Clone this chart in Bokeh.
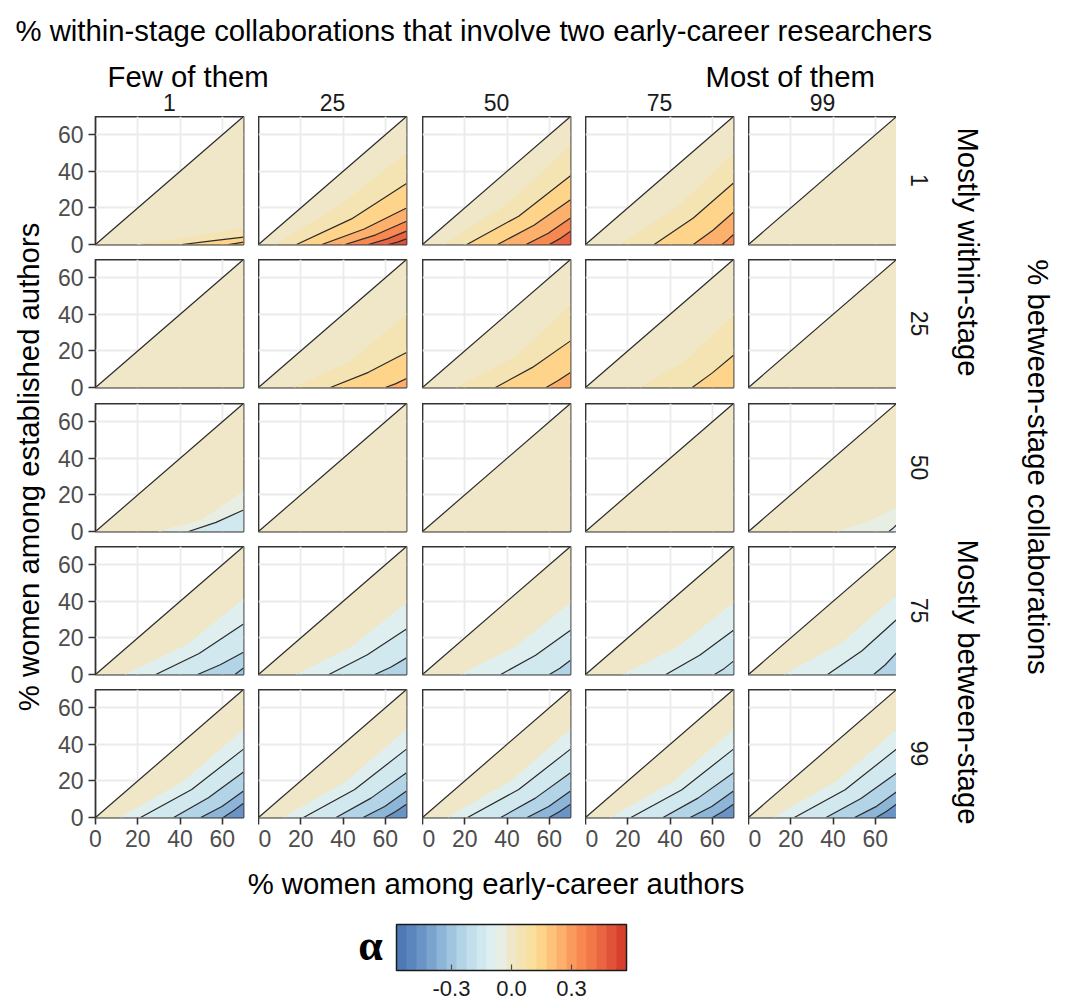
import math
from bokeh.plotting import figure
from bokeh.models import Range1d, FixedTicker, LinearColorMapper, ColorBar, PrintfTickFormatter, ColumnDataSource
from bokeh.layouts import row, column
from bokeh.transform import transform
from bokeh.embed import file_html
from bokeh.resources import INLINE
from bokeh.core.properties import value

SANS = "Liberation Sans"
SERIF = "Liberation Serif"

# ---------------- facet labels / texts ----------------
within_labels = ["1", "25", "50", "75", "99"]      # columns
between_labels = ["1", "25", "50", "75", "99"]     # rows
within_extremes = ["Few of them", "Most of them"]
between_extremes = ["Mostly within-stage", "Mostly between-stage"]
title_text = "% within-stage collaborations that involve two early-career researchers"
x_title = "% women among early-career authors"
y_title = "% women among established authors"
row_title = "% between-stage collaborations"
legend_title = "\u03b1"

# ---------------- axes / colour scale ----------------
pct_max = 70
axis_ticks = [0, 20, 40, 60]
alpha_low = -0.575
alpha_high = 0.575
alpha_ticks = [-0.3, 0.0, 0.3]
alpha_palette = ["#4e79b6", "#5b86bd", "#6a94c5", "#7aa3cd", "#8db5d7", "#a0c5df",
                 "#b2d4e6", "#c2dfeb", "#d1e8ef", "#dfefef", "#e8eee3", "#efe7c8",
                 "#f4e3b3", "#f9e09e", "#fdd48a", "#fdc37b", "#fcb06c", "#fa9b5d",
                 "#f78850", "#f27749", "#ea6541", "#e15339", "#d73f2e"]

# alpha of the region between the diagonal and the first boundary (rows x cols)
top_alpha_r1 = [0.02, 0.02, 0.02, 0.02, 0.02]
top_alpha_r2 = [0.01, 0.02, 0.02, 0.02, 0.02]
top_alpha_r3 = [0.02, 0.02, 0.02, 0.02, 0.02]
top_alpha_r4 = [0.02, 0.02, 0.02, 0.02, 0.02]
top_alpha_r5 = [0.02, 0.02, 0.02, 0.02, 0.02]
top_alpha = [top_alpha_r1, top_alpha_r2, top_alpha_r3, top_alpha_r4, top_alpha_r5]

# ---------------- iso-alpha boundaries (contours every 0.1, colour steps at 0.05) ----------------
# each boundary runs from (x0, 0) through (xm, ym) to (pct_max, y1); "below" = alpha beneath it
ct_row = [1, 1, 1,  1, 1, 1, 1, 1, 1,  1, 1, 1, 1, 1,  1, 1, 1, 1,
          2, 2, 2,  2, 2, 2,  2, 2,
          3, 3,  3, 3,
          4, 4, 4, 4,  4, 4, 4,  4, 4, 4,  4, 4, 4,  4, 4, 4,
          5, 5, 5, 5, 5,  5, 5, 5, 5, 5,  5, 5, 5, 5, 5,  5, 5, 5, 5, 5,  5, 5, 5, 5, 5]
ct_col = [1, 1, 1,  2, 2, 2, 2, 2, 2,  3, 3, 3, 3, 3,  4, 4, 4, 4,
          2, 2, 2,  3, 3, 3,  4, 4,
          1, 1,  5, 5,
          1, 1, 1, 1,  2, 2, 2,  3, 3, 3,  4, 4, 4,  5, 5, 5,
          1, 1, 1, 1, 1,  2, 2, 2, 2, 2,  3, 3, 3, 3, 3,  4, 4, 4, 4, 4,  5, 5, 5, 5, 5]
ct_level = [0.05, 0.1, 0.2,  0.05, 0.1, 0.2, 0.3, 0.4, 0.5,  0.05, 0.1, 0.2, 0.3, 0.4,  0.05, 0.1, 0.2, 0.3,
            0.05, 0.1, 0.2,  0.05, 0.1, 0.2,  0.05, 0.1,
            -0.05, -0.1,  -0.05, -0.1,
            -0.05, -0.1, -0.2, -0.3,  -0.05, -0.1, -0.2,  -0.05, -0.1, -0.2,  -0.05, -0.1, -0.2,  -0.05, -0.1, -0.2,
            -0.05, -0.1, -0.2, -0.3, -0.4,  -0.05, -0.1, -0.2, -0.3, -0.4,  -0.05, -0.1, -0.2, -0.3, -0.4,
            -0.05, -0.1, -0.2, -0.3, -0.4,  -0.05, -0.1, -0.2, -0.3, -0.4]
ct_x0 = [20, 41, 63,  8, 18, 30, 41, 52, 61.5,  10, 21, 35.5, 49, 60,  16, 32.5, 51, 64.5,
         17, 34, 60,  16, 34.5, 58.5,  26, 50.5,
         30, 44,  42, 66.4,
         14, 28.5, 48.3, 66,  18, 33.3, 55,  18, 37, 60,  18, 38, 61,  17, 37.4, 59.2,
         12, 21.3, 37, 49.8, 60.4,  12, 21.3, 36.7, 49.5, 59.9,  12, 21.3, 37, 49.5, 59.9,
         12, 21.5, 36.7, 49.5, 60.1,  12, 21.7, 36.7, 50.2, 60.4]
ct_xm = [45, 55, 66.5,  38, 44, 50, 55.5, 61, 65.8,  40, 45.5, 52.7, 59.5, 65,  43, 51, 60.3, 67.2,
         43, 52, 65,  43, 52, 64,  48, 60,
         50, 57,  56, 68.2,
         43, 49, 59, 67.8,  44, 51.5, 62.5,  44, 53.5, 65,  44, 54, 65.5,  44, 53.7, 64.6,
         42, 45.5, 53.4, 59.8, 65.1,  42, 45.5, 53.2, 59.7, 64.9,  42, 45.5, 53.4, 59.7, 64.9,
         42, 45.6, 53.2, 59.7, 65,  42, 45.7, 53.2, 60.1, 65.2]
ct_ym = [4.0, 2.0, 0.6,  21, 14.0, 8.5, 5.3, 3.1, 1.3,  22, 15.5, 10.5, 6.2, 3.2,  20, 14.5, 7.8, 2.5,
         14, 8.3, 2.1,  16, 11.0, 3.7,  15, 8.0,
         6, 5.0,  5, 1.6,
         16, 11.5, 5.3, 1.6,  15, 10.8, 4.0,  15, 10.5, 3.4,  15, 10.5, 3.2,  17, 13.0, 5.2,
         20, 15.3, 10.8, 6.0, 3.5,  20, 15.3, 10.6, 6.0, 3.3,  20, 15.3, 10.6, 6.0, 3.3,
         20, 15.2, 10.6, 6.0, 3.3,  20, 15.2, 10.4, 5.8, 3.3]
ct_y1 = [9, 4.0, 1.3,  50, 33.3, 20.0, 12.7, 7.3, 3.1,  54, 37.6, 24.5, 14.5, 7.3,  50, 33.6, 17.6, 5.5,
         40, 19.1, 4.9,  45, 25.5, 8.2,  40, 17.6,
         22, 11.8,  13, 3.6,
         41, 27.6, 12.2, 3.6,  39, 24.9, 9.1,  39, 24.2, 7.8,  39, 24.2, 7.3,  43, 30.0, 11.8,
         48, 37.4, 24.9, 14.5, 7.8,  48, 37.4, 24.5, 14.5, 7.3,  48, 37.4, 24.5, 14.5, 7.3,
         48, 37.4, 24.5, 14.5, 7.3,  48, 37.4, 24.2, 14.0, 7.3]
ct_below = [0.07, 0.15, 0.21,  0.07, 0.15, 0.25, 0.35, 0.45, 0.52,  0.07, 0.15, 0.25, 0.35, 0.44,
            0.07, 0.15, 0.25, 0.33,
            0.07, 0.15, 0.23,  0.07, 0.15, 0.24,  0.07, 0.15,
            -0.07, -0.13,  -0.07, -0.11,
            -0.08, -0.15, -0.25, -0.32,  -0.08, -0.15, -0.23,  -0.08, -0.15, -0.23,  -0.08, -0.15, -0.22,
            -0.08, -0.15, -0.23,
            -0.08, -0.15, -0.25, -0.35, -0.44,  -0.08, -0.15, -0.25, -0.35, -0.44,  -0.08, -0.15, -0.25, -0.35, -0.44,
            -0.08, -0.15, -0.25, -0.35, -0.44,  -0.08, -0.15, -0.25, -0.35, -0.44]

# ---------------- layout (pixels) ----------------
FRAME_W = 148
FRAME_H = 128
YLAB_W = 48
col_border_left = [47, 0, 0, 0, 0]
col_border_right = [15, 16, 15, 15, 0]
row_border_bottom = [15, 16, 15, 15, 45]
STRIP_W = 165
HEADER_H = 116
BOTTOM_H = 139
PAGE_W = 1061

mapper = LinearColorMapper(palette=alpha_palette, low=alpha_low, high=alpha_high)

BIG = "29.3px"
SMALL = "23px"
DARK = "#333333"


def is_contour(level):
    return abs(level * 10 - round(level * 10)) < 1e-9


def panel_geometry(r, c):
    idx = [i for i in range(len(ct_row)) if ct_row[i] == r + 1 and ct_col[i] == c + 1]
    top = top_alpha[r][c]
    xs, ys, vals = [], [], []
    if not idx:
        xs.append([0, pct_max, pct_max])
        ys.append([0, pct_max, 0])
        vals.append(top)
        return xs, ys, vals, [], []
    lines = [([ct_x0[i], ct_xm[i], pct_max], [0, ct_ym[i], ct_y1[i]]) for i in idx]
    lx, ly = lines[0]
    xs.append([0, pct_max] + lx[::-1])
    ys.append([0, pct_max] + ly[::-1])
    vals.append(top)
    for k in range(len(idx)):
        ax, ay = lines[k]
        if k + 1 < len(idx):
            bx, by = lines[k + 1]
            xs.append(ax + bx[::-1])
            ys.append(ay + by[::-1])
        else:
            xs.append(ax + [pct_max])
            ys.append(ay + [0])
        vals.append(ct_below[idx[k]])
    cx = [lines[k][0] for k in range(len(idx)) if is_contour(ct_level[idx[k]])]
    cy = [lines[k][1] for k in range(len(idx)) if is_contour(ct_level[idx[k]])]
    return xs, ys, vals, cx, cy


def style_axis(ax):
    ax.ticker = FixedTicker(ticks=axis_ticks)
    ax.major_label_text_font = SANS
    ax.major_label_text_font_size = SMALL
    ax.major_label_text_color = "#4d4d4d"
    ax.major_tick_out = 7
    ax.major_tick_in = 0
    ax.major_tick_line_color = DARK
    ax.major_tick_line_width = 1.6
    ax.minor_tick_line_color = None
    ax.axis_line_color = None
    ax.major_label_standoff = 5


def make_panel(r, c):
    w = col_border_left[c] + FRAME_W + col_border_right[c]
    h = FRAME_H + row_border_bottom[r]
    p = figure(width=w, height=h, x_range=Range1d(0, pct_max), y_range=Range1d(0, pct_max),
               toolbar_location=None, output_backend="svg", title=None,
               x_axis_location="below" if r == 4 else None,
               y_axis_location="left" if c == 0 else None,
               min_border=0, min_border_left=col_border_left[c], min_border_right=col_border_right[c],
               min_border_top=0, min_border_bottom=row_border_bottom[r])
    p.outline_line_color = DARK
    p.outline_line_width = 1.8
    p.background_fill_color = "white"
    p.border_fill_color = "white"
    p.xgrid.ticker = FixedTicker(ticks=axis_ticks)
    p.ygrid.ticker = FixedTicker(ticks=axis_ticks)
    p.grid.grid_line_color = "#ebebeb"
    p.grid.grid_line_width = 1.8
    if r == 4:
        style_axis(p.xaxis[0])
    if c == 0:
        style_axis(p.yaxis[0])
    xs, ys, vals, cx, cy = panel_geometry(r, c)
    src = ColumnDataSource(dict(xs=xs, ys=ys, alpha=vals))
    p.patches("xs", "ys", source=src, fill_color=transform("alpha", mapper),
              line_color=transform("alpha", mapper), line_width=0.6)
    if cx:
        p.multi_line(cx, cy, line_color="#2b2b2b", line_width=1.2)
    p.line(x=[0, pct_max], y=[0, pct_max], line_color="#2b2b2b", line_width=1.2)
    return p


def text_fig(w, h, x0, y0):
    f = figure(width=w, height=h, x_range=Range1d(x0, x0 + w), y_range=Range1d(y0 + h, y0),
               toolbar_location=None, output_backend="svg", title=None, min_border=0,
               x_axis_location=None, y_axis_location=None)
    f.outline_line_color = None
    f.grid.visible = False
    return f


# page coordinates of the panel frames
frame_left = []
xpos = YLAB_W
for c in range(5):
    frame_left.append(xpos + col_border_left[c])
    xpos += col_border_left[c] + FRAME_W + col_border_right[c]
frame_top = []
ypos = HEADER_H
for r in range(5):
    frame_top.append(ypos)
    ypos += FRAME_H + row_border_bottom[r]
col_centers = [fl + FRAME_W / 2 for fl in frame_left]
row_centers = [ft + FRAME_H / 2 for ft in frame_top]
body_h = ypos - HEADER_H
panels_mid_x = (frame_left[0] + frame_left[4] + FRAME_W) / 2
panels_mid_y = (frame_top[0] + frame_top[4] + FRAME_H) / 2

# ---------------- header ----------------
hdr = text_fig(PAGE_W, HEADER_H, 0, 0)
hdr.text(x=[15], y=[30.4], text=[title_text], text_font=value(SANS), text_font_size=BIG,
         text_align="left", text_baseline="alphabetic", text_color="black")
hdr.text(x=[107, 705], y=[76, 76], text=within_extremes, text_font=value(SANS), text_font_size=BIG,
         text_align="left", text_baseline="alphabetic", text_color="black")
hdr.text(x=col_centers, y=[102] * 5, text=within_labels, text_font=value(SANS), text_font_size=SMALL,
         text_align="center", text_baseline="alphabetic", text_color="#1a1a1a")

# ---------------- y title ----------------
ylab = text_fig(YLAB_W, body_h, 0, HEADER_H)
ylab.text(x=[28], y=[panels_mid_y], text=[y_title], angle=math.pi / 2, text_font=value(SANS),
          text_font_size=BIG, text_align="center", text_baseline="middle", text_color="black")

# ---------------- right strips ----------------
strip_x0 = frame_left[4] + FRAME_W
strip = text_fig(STRIP_W, body_h, strip_x0, HEADER_H)
strip.text(x=[919] * 5, y=row_centers, text=between_labels, angle=-math.pi / 2, text_font=value(SANS),
           text_font_size=SMALL, text_align="center", text_baseline="middle", text_color="#1a1a1a")
strip.text(x=[967.5, 967.5],
           y=[(frame_top[0] + frame_top[1] + FRAME_H) / 2, (frame_top[3] + frame_top[4] + FRAME_H) / 2],
           text=between_extremes, angle=-math.pi / 2, text_font=value(SANS), text_font_size=BIG,
           text_align="center", text_baseline="middle", text_color="black")
strip.text(x=[1038], y=[panels_mid_y], text=[row_title], angle=-math.pi / 2, text_font=value(SANS),
           text_font_size=BIG, text_align="center", text_baseline="middle", text_color="black")

# ---------------- panels ----------------
panel_columns = []
for c in range(5):
    panel_columns.append(column(*[make_panel(r, c) for r in range(5)], spacing=0))

body = row(ylab, *panel_columns, strip, spacing=0)

# ---------------- bottom: x title + colour bar ----------------
bottom_y0 = HEADER_H + body_h
bot = text_fig(PAGE_W, BOTTOM_H, 0, bottom_y0)
bot.text(x=[panels_mid_x], y=[883], text=[x_title], text_font=value(SANS), text_font_size=BIG,
         text_align="center", text_baseline="alphabetic", text_color="black")
bot.text(x=[370], y=[945], text=[legend_title], text_font=value(SERIF), text_font_size="44px",
         text_font_style="bold", text_align="center", text_baseline="middle", text_color="black")
cb = ColorBar(color_mapper=mapper, orientation="horizontal", location=(396, 3),
              width=230, height=46, padding=0, margin=0,
              ticker=FixedTicker(ticks=alpha_ticks), formatter=PrintfTickFormatter(format="%.1f"),
              major_label_text_font=SANS, major_label_text_font_size="22px",
              major_label_text_color="#1a1a1a", label_standoff=10,
              major_tick_in=6, major_tick_out=0, major_tick_line_color="#4d4d4d",
              major_tick_line_width=1.2, minor_tick_line_color=None,
              bar_line_color="#1a1a1a", bar_line_width=1.5, border_line_color=None)
bot.add_layout(cb, "center")

page = column(hdr, body, bot, spacing=0)

open("out.html", "w").write(file_html(page, INLINE))
